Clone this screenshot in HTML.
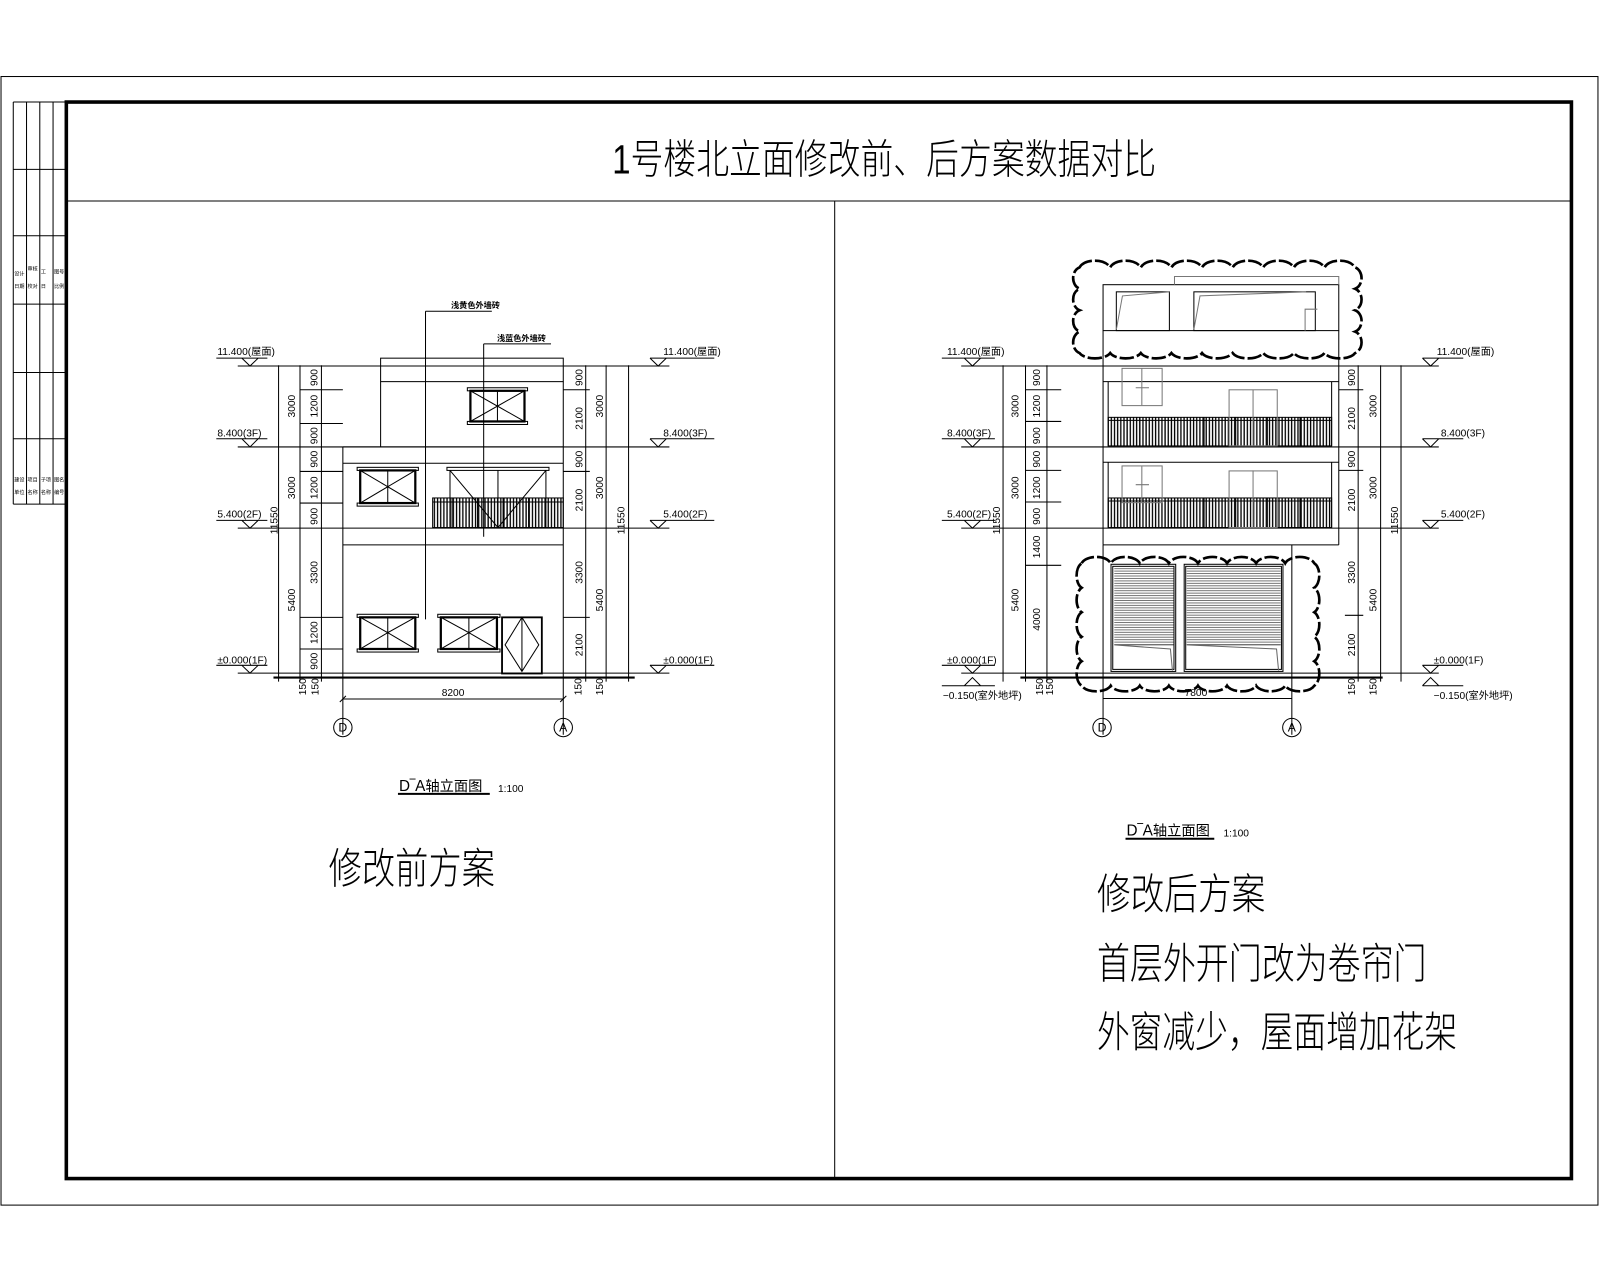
<!DOCTYPE html>
<html><head><meta charset="utf-8"><style>
html,body{margin:0;padding:0;background:#fff;}
svg{display:block;}
text{font-family:"Liberation Sans","Noto Sans CJK SC",sans-serif;fill:#000;}
.d{font-size:10px;}
.cjk{font-family:"Liberation Sans","Noto Sans CJK SC",sans-serif;font-weight:300;}
</style></head><body>
<svg width="1600" height="1280" viewBox="0 0 1568 1254.4" xmlns="http://www.w3.org/2000/svg">
<defs>
<pattern id="bal" width="3.1" height="40" patternUnits="userSpaceOnUse"><line x1="1" y1="0" x2="1" y2="40" stroke="#000" stroke-width="1.3"/></pattern>
<pattern id="slat" width="20" height="2.4" patternUnits="userSpaceOnUse"><line x1="0" y1="0.5" x2="20" y2="0.5" stroke="#444" stroke-width="0.7"/></pattern>
</defs>
<g fill="none" stroke="#000" stroke-width="1">
<!-- frames -->
<rect x="1" y="75" width="1565" height="1106"/>
<rect x="65" y="100" width="1475" height="1055" stroke-width="3.5"/>
<line x1="65" y1="197" x2="1540" y2="197"/>
<line x1="818" y1="197" x2="818" y2="1155"/>
<!-- title block -->
<path d="M13 100V494M26 100V494M39 100V494M52 100V494M13 100H65M13 166H65M13 231H65M13 298H65M13 365H65M13 430H65M13 494H65"/>
</g>
<g font-size="5" fill="#333">
<text x="14" y="270">设计</text><text x="27" y="265">审核</text><text x="40" y="268">工</text><text x="53" y="268">图号</text>
<text x="14" y="282">日期</text><text x="27" y="282">校对</text><text x="40" y="282">日</text><text x="53" y="282">比例</text>
<text x="14" y="472">建设</text><text x="27" y="472">项目</text><text x="40" y="472">子项</text><text x="53" y="472">图名</text>
<text x="14" y="484">单位</text><text x="27" y="484">名称</text><text x="40" y="484">名称</text><text x="53" y="484">编号</text>
</g>
<text x="600" y="170" font-size="40" textLength="533" lengthAdjust="spacingAndGlyphs" class="cjk">1号楼北立面修改前、后方案数据对比</text>

<!-- ========== LEFT DRAWING ========== -->
<g fill="none" stroke="#000" stroke-width="1">
<!-- level lines -->
<path d="M233 358.7H656M233 438H656M233 517.6H656M233 659.7H656"/>
<line x1="268" y1="664" x2="622" y2="664" stroke-width="2"/>
<!-- markers left -->
<path d="M212 351H262M237 351L245 358.7L253 351M212 430H262M237 430L245 438L253 430M212 510H262M237 510L245 517.6L253 510M212 652H262M237 652L245 659.7L253 652"/>
<path d="M637 351H700M637 351L645 358.7L653 351M637 430H700M637 430L645 438L653 430M637 510H700M637 510L645 517.6L653 510M637 652H700M637 652L645 659.7L653 652"/>
<!-- dim lines -->
<path d="M273 358V668M294 358V668M315 358V668M574 358V668M594 358V668M616 358V668"/>
<path d="M294 382H336M294 415H336M294 462H336M294 493H336M294 605H336M294 636H336"/>
<path d="M552 382H578M552 462H578M552 605H578"/>
<!-- building -->
<rect x="373" y="351" width="179" height="23"/>
<path d="M373 374V438M552 374V664M336 438V720M336 438H552M336 454H552M336 534H552M552 664V720"/>
<!-- 3F window -->
<rect x="458" y="380" width="59" height="3" /><rect x="458" y="413" width="59" height="3"/>
<rect x="461" y="383" width="53" height="30" stroke-width="2.2"/>
<path d="M487.5 383V413M461 383L487.5 398L461 413M514 383L487.5 398L514 413"/>
<!-- 2F left window -->
<rect x="350" y="458" width="60" height="3"/><rect x="350" y="493" width="60" height="3"/>
<rect x="353" y="461" width="54" height="32" stroke-width="2.2"/>
<path d="M380 461V493M353 461L380 477L353 493M407 461L380 477L407 493"/>
<!-- 2F balcony door -->
<rect x="438" y="458" width="100" height="3"/>
<path d="M441 461V517M535 461V517M488 461V517M441 461L488 517L535 461" />
<rect x="424" y="488" width="128" height="29" fill="url(#bal)"/>
<path d="M424 492H552M443 488V517M468 488V517M493 488V517M518 488V517"/>
<!-- 1F windows -->
<rect x="350" y="602" width="60" height="3"/><rect x="350" y="636" width="60" height="3"/>
<rect x="353" y="605" width="54" height="31" stroke-width="2.2"/>
<path d="M380 605V636M353 605L380 620L353 636M407 605L380 620L407 636"/>
<rect x="429" y="602" width="61" height="3"/><rect x="429" y="636" width="61" height="3"/>
<rect x="432" y="605" width="55" height="31" stroke-width="2.2"/>
<path d="M459.5 605V636M432 605L459.5 620L432 636M487 605L459.5 620L487 636"/>
<rect x="492" y="605" width="39" height="55" stroke-width="1.8"/>
<path d="M511.5 605L495 632L511.5 658L528 632Z M511.5 605V658"/>
<!-- leaders -->
<path d="M417 305V607M417 305H482M474 337V526M474 337H540"/>
<!-- 8200 -->
<path d="M336 685H552M333 688L339 682M549 688L555 682"/>
<circle cx="336" cy="713" r="9"/><circle cx="552" cy="713" r="9"/>
<line x1="390" y1="778" x2="480" y2="778" stroke-width="2"/>
</g>
<g class="d">
<text x="213" y="348">11.400(屋面)</text><text x="213" y="428">8.400(3F)</text><text x="213" y="507">5.400(2F)</text><text x="213" y="650">±0.000(1F)</text>
<text x="650" y="348">11.400(屋面)</text><text x="650" y="428">8.400(3F)</text><text x="650" y="507">5.400(2F)</text><text x="650" y="650">±0.000(1F)</text>
<text transform="translate(289 398) rotate(-90)" text-anchor="middle">3000</text>
<text transform="translate(289 478) rotate(-90)" text-anchor="middle">3000</text>
<text transform="translate(289 588) rotate(-90)" text-anchor="middle">5400</text>
<text transform="translate(272 510) rotate(-90)" text-anchor="middle">11550</text>
<text transform="translate(311 370) rotate(-90)" text-anchor="middle">900</text>
<text transform="translate(311 398) rotate(-90)" text-anchor="middle">1200</text>
<text transform="translate(311 427) rotate(-90)" text-anchor="middle">900</text>
<text transform="translate(311 450) rotate(-90)" text-anchor="middle">900</text>
<text transform="translate(311 478) rotate(-90)" text-anchor="middle">1200</text>
<text transform="translate(311 506) rotate(-90)" text-anchor="middle">900</text>
<text transform="translate(311 561) rotate(-90)" text-anchor="middle">3300</text>
<text transform="translate(311 620) rotate(-90)" text-anchor="middle">1200</text>
<text transform="translate(311 648) rotate(-90)" text-anchor="middle">900</text>
<text transform="translate(571 370) rotate(-90)" text-anchor="middle">900</text>
<text transform="translate(571 410) rotate(-90)" text-anchor="middle">2100</text>
<text transform="translate(571 450) rotate(-90)" text-anchor="middle">900</text>
<text transform="translate(571 490) rotate(-90)" text-anchor="middle">2100</text>
<text transform="translate(571 561) rotate(-90)" text-anchor="middle">3300</text>
<text transform="translate(571 632) rotate(-90)" text-anchor="middle">2100</text>
<text transform="translate(591 398) rotate(-90)" text-anchor="middle">3000</text>
<text transform="translate(591 478) rotate(-90)" text-anchor="middle">3000</text>
<text transform="translate(591 588) rotate(-90)" text-anchor="middle">5400</text>
<text transform="translate(612 510) rotate(-90)" text-anchor="middle">11550</text>
<text transform="translate(300 673) rotate(-90)" text-anchor="middle">150</text>
<text transform="translate(312 673) rotate(-90)" text-anchor="middle">150</text>
<text transform="translate(570 673) rotate(-90)" text-anchor="middle">150</text>
<text transform="translate(591 673) rotate(-90)" text-anchor="middle">150</text>
<text x="444" y="682" text-anchor="middle">8200</text>
<text x="336" y="717" text-anchor="middle" font-size="12">D</text>
<text x="552" y="717" text-anchor="middle" font-size="12">A</text>
</g>
<text x="442" y="302" font-size="8" font-weight="bold">浅黄色外墙砖</text>
<text x="487" y="334" font-size="8" font-weight="bold">浅蓝色外墙砖</text>
<text x="391" y="775" font-size="15">D‾A<tspan font-size="14">轴立面图</tspan></text>
<text x="488" y="776" font-size="10">1:100</text>
<text x="322" y="866" font-size="42" textLength="163" lengthAdjust="spacingAndGlyphs" class="cjk">修改前方案</text>

<!-- ========== RIGHT DRAWING ========== -->
<g fill="none" stroke="#000" stroke-width="1">
<path d="M942 358.7H1410M942 438H1410M942 517.6H1410M942 659.7H1410"/>
<line x1="1000" y1="664" x2="1355" y2="664" stroke-width="2"/>
<path d="M923 351H975M945 351L953 358.7L961 351M923 430H975M945 430L953 438L961 430M923 510H975M945 510L953 517.6L961 510M923 652H975M945 652L953 659.7L961 652M945 672L953 664L961 672M923 672H975"/>
<path d="M1394 351H1434M1394 351L1402 358.7L1410 351M1394 430H1434M1394 430L1402 438L1410 430M1394 510H1434M1394 510L1402 517.6L1410 510M1394 652H1434M1394 652L1402 659.7L1410 652M1394 672L1402 664L1410 672M1394 672H1434"/>
<path d="M983 358V668M1005 358V668M1026 358V668M1331 358V668M1353 358V668M1373 358V668"/>
<path d="M1005 382H1040M1005 413H1040M1005 461H1040M1005 492H1040M1005 554H1040"/>
<path d="M1312 382H1336M1312 461H1336M1318 603H1336"/>
<!-- roof pergola -->
<rect x="1081" y="279" width="231" height="45"/>
<path d="M1081 324V534M1312 324V534M1081 374H1312M1086 374V437M1305 374V437M1081 453H1312M1086 453V517M1305 453V517M1081 534H1312"/>
<path d="M1151 279V271H1312V279" stroke="#777"/>
<rect x="1094" y="286" width="52" height="38"/>
<rect x="1170" y="286" width="119" height="38"/>
<path d="M1094 323L1100 290L1146 286M1170 323L1176 290L1280 286M1279 324V303H1291" stroke="#777"/>
<!-- 3F -->
<rect x="1086" y="409" width="219" height="28" fill="url(#bal)"/>
<path d="M1086 412H1305M1117 409V437M1148 409V437M1180 409V437M1211 409V437M1242 409V437M1274 409V437"/>
<rect x="1099.6" y="361" width="39.3" height="36.5" stroke="#777" fill="#fff" fill-opacity="0"/>
<path d="M1119 361V397M1113 380H1126" stroke="#777"/>
<rect x="1204.5" y="382" width="47.2" height="55" stroke="#777"/>
<path d="M1228 382V437" stroke="#777"/>
<!-- 2F -->
<rect x="1086" y="488" width="219" height="29" fill="url(#bal)"/>
<path d="M1086 491H1305M1117 488V517M1148 488V517M1180 488V517M1211 488V517M1242 488V517M1274 488V517"/>
<rect x="1099.6" y="456.6" width="39.3" height="36" stroke="#777"/>
<path d="M1119 457V492M1113 475H1126" stroke="#777"/>
<rect x="1204.5" y="461.5" width="47.2" height="55.5" stroke="#777"/>
<path d="M1228 461V517" stroke="#777"/>
<!-- 1F shutters -->
<path d="M1081 534V720M1266 534V720"/>
<rect x="1088.8" y="553" width="63.4" height="105"/>
<rect x="1090.5" y="555" width="60" height="101"/>
<rect x="1092" y="556" width="58" height="76" fill="url(#slat)" stroke="none"/>
<path d="M1092 632H1150M1092 632L1147 636L1149 657" stroke="#666"/>
<rect x="1160.5" y="553" width="96.8" height="105"/>
<rect x="1162" y="555" width="93.8" height="101"/>
<rect x="1163" y="556" width="92" height="76" fill="url(#slat)" stroke="none"/>
<path d="M1163 632H1255M1163 632L1251 636L1253 657" stroke="#666"/>
<path d="M1081 684.5H1266"/>
<circle cx="1080" cy="713" r="9"/><circle cx="1266" cy="713" r="9"/>
<line x1="1103" y1="822" x2="1190" y2="822" stroke-width="2"/>
<!-- clouds -->
<g stroke-width="2.6" stroke-dasharray="14 3">
<path d="M1058 262 a16 10 0 0 1 30 0 a16 10 0 0 1 30 0 a16 10 0 0 1 30 0 a16 10 0 0 1 30 0 a16 10 0 0 1 30 0 a16 10 0 0 1 30 0 a16 10 0 0 1 30 0 a16 10 0 0 1 30 0 a16 10 0 0 1 30 0 a9 11 0 0 1 0 21 a9 11 0 0 1 0 21 a9 11 0 0 1 0 21 a9 11 0 0 1 0 21 a16 8 0 0 1 -30 0 a16 8 0 0 1 -30 0 a16 8 0 0 1 -30 0 a16 8 0 0 1 -30 0 a16 8 0 0 1 -30 0 a16 8 0 0 1 -30 0 a16 8 0 0 1 -30 0 a16 8 0 0 1 -30 0 a16 8 0 0 1 -30 0 a9 11 0 0 1 0 -21 a9 11 0 0 1 0 -21 a9 11 0 0 1 0 -21 a9 11 0 0 1 0 -21Z"/>
<path d="M1060 552 a15 9 0 0 1 28.5 0 a15 9 0 0 1 28.5 0 a15 9 0 0 1 28.5 0 a15 9 0 0 1 28.5 0 a15 9 0 0 1 28.5 0 a15 9 0 0 1 28.5 0 a15 9 0 0 1 28.5 0 a15 9 0 0 1 28.5 0 a8 13 0 0 1 0 24 a8 13 0 0 1 0 24 a8 13 0 0 1 0 24 a8 13 0 0 1 0 24 a8 13 0 0 1 0 24 a15 8 0 0 1 -28.5 0 a15 8 0 0 1 -28.5 0 a15 8 0 0 1 -28.5 0 a15 8 0 0 1 -28.5 0 a15 8 0 0 1 -28.5 0 a15 8 0 0 1 -28.5 0 a15 8 0 0 1 -28.5 0 a15 8 0 0 1 -28.5 0 a8 13 0 0 1 0 -24 a8 13 0 0 1 0 -24 a8 13 0 0 1 0 -24 a8 13 0 0 1 0 -24 a8 13 0 0 1 0 -24Z"/>
</g>
</g>
<g class="d">
<text x="928" y="348">11.400(屋面)</text><text x="928" y="428">8.400(3F)</text><text x="928" y="507">5.400(2F)</text><text x="928" y="650">±0.000(1F)</text><text x="924" y="685">−0.150(室外地坪)</text>
<text x="1408" y="348">11.400(屋面)</text><text x="1412" y="428">8.400(3F)</text><text x="1412" y="507">5.400(2F)</text><text x="1405" y="650">±0.000(1F)</text><text x="1405" y="685">−0.150(室外地坪)</text>
<text transform="translate(998 398) rotate(-90)" text-anchor="middle">3000</text>
<text transform="translate(998 478) rotate(-90)" text-anchor="middle">3000</text>
<text transform="translate(998 588) rotate(-90)" text-anchor="middle">5400</text>
<text transform="translate(980 510) rotate(-90)" text-anchor="middle">11550</text>
<text transform="translate(1019 370) rotate(-90)" text-anchor="middle">900</text>
<text transform="translate(1019 398) rotate(-90)" text-anchor="middle">1200</text>
<text transform="translate(1019 427) rotate(-90)" text-anchor="middle">900</text>
<text transform="translate(1019 450) rotate(-90)" text-anchor="middle">900</text>
<text transform="translate(1019 478) rotate(-90)" text-anchor="middle">1200</text>
<text transform="translate(1019 506) rotate(-90)" text-anchor="middle">900</text>
<text transform="translate(1019 536) rotate(-90)" text-anchor="middle">1400</text>
<text transform="translate(1019 607) rotate(-90)" text-anchor="middle">4000</text>
<text transform="translate(1328 370) rotate(-90)" text-anchor="middle">900</text>
<text transform="translate(1328 410) rotate(-90)" text-anchor="middle">2100</text>
<text transform="translate(1328 450) rotate(-90)" text-anchor="middle">900</text>
<text transform="translate(1328 490) rotate(-90)" text-anchor="middle">2100</text>
<text transform="translate(1328 561) rotate(-90)" text-anchor="middle">3300</text>
<text transform="translate(1328 632) rotate(-90)" text-anchor="middle">2100</text>
<text transform="translate(1349 398) rotate(-90)" text-anchor="middle">3000</text>
<text transform="translate(1349 478) rotate(-90)" text-anchor="middle">3000</text>
<text transform="translate(1349 588) rotate(-90)" text-anchor="middle">5400</text>
<text transform="translate(1370 510) rotate(-90)" text-anchor="middle">11550</text>
<text transform="translate(1022 673) rotate(-90)" text-anchor="middle">150</text>
<text transform="translate(1032 673) rotate(-90)" text-anchor="middle">150</text>
<text transform="translate(1328 673) rotate(-90)" text-anchor="middle">150</text>
<text transform="translate(1349 673) rotate(-90)" text-anchor="middle">150</text>
<text x="1172" y="682" text-anchor="middle">7800</text>
<text x="1080" y="717" text-anchor="middle" font-size="12">D</text>
<text x="1266" y="717" text-anchor="middle" font-size="12">A</text>
</g>
<text x="1104" y="819" font-size="15">D‾A<tspan font-size="14">轴立面图</tspan></text>
<text x="1199" y="820" font-size="10">1:100</text>
<text x="1075" y="891" font-size="42" textLength="165" lengthAdjust="spacingAndGlyphs" class="cjk">修改后方案</text>
<text x="1075" y="959" font-size="42" textLength="323" lengthAdjust="spacingAndGlyphs" class="cjk">首层外开门改为卷帘门</text>
<text x="1075" y="1026" font-size="42" textLength="353" lengthAdjust="spacingAndGlyphs" class="cjk">外窗减少，屋面增加花架</text>
</svg>
</body></html>
